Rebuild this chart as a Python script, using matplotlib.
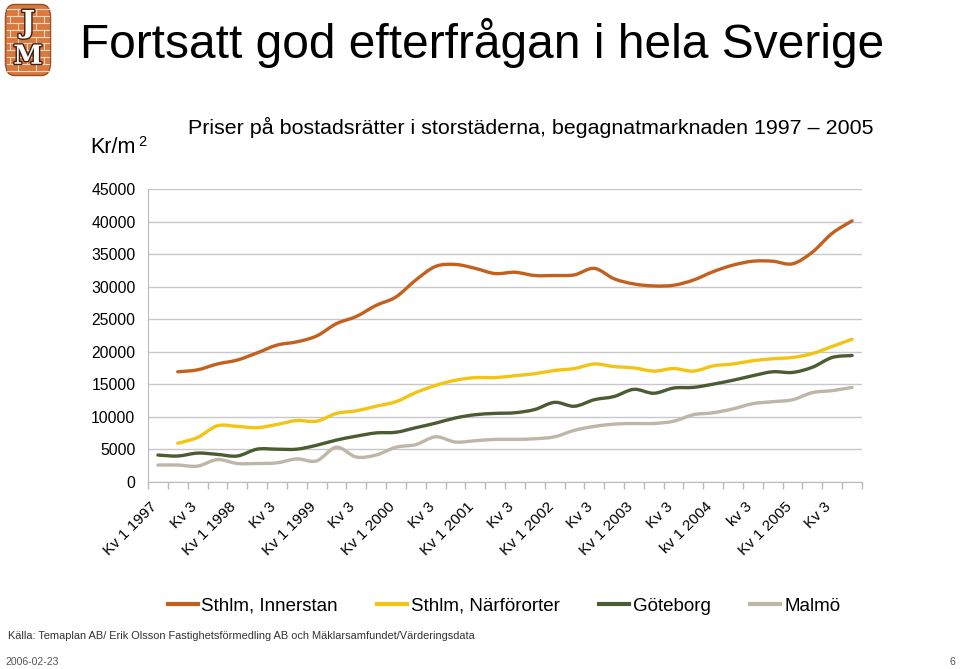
import numpy as np
import matplotlib
matplotlib.use('Agg')
import matplotlib.pyplot as plt
from matplotlib.path import Path
from matplotlib.patches import PathPatch, FancyBboxPatch
from matplotlib.lines import Line2D
import matplotlib.patheffects as pe
import matplotlib.transforms as mtransforms

plt.rcParams['font.family'] = ['Liberation Sans', 'DejaVu Sans']

# quarterly prices, Kr/m2, Kv 1 1997 .. Kv 4 2005
xlabels = ['Kv 1 1997', 'Kv 3', 'Kv 1 1998', 'Kv 3', 'Kv 1 1999', 'Kv 3',
           'Kv 1 2000', 'Kv 3', 'Kv 1 2001', 'Kv 3', 'Kv 1 2002', 'Kv 3',
           'Kv 1 2003', 'Kv 3', 'kv 1 2004', 'kv 3', 'Kv 1 2005', 'Kv 3']

innerstan = [np.nan, 16900, 17200, 18100, 18700, 19800, 21000, 21500, 22400,
             24300, 25400, 27100, 28400, 31000, 33100, 33400, 32800, 32000,
             32200, 31700, 31700, 31800, 32800, 31200, 30400, 30100, 30200,
             31000, 32300, 33300, 33900, 33900, 33500, 35300, 38200, 40100]
narfororter = [np.nan, 5900, 6800, 8600, 8500, 8300, 8800, 9400, 9300,
               10500, 10900, 11600, 12300, 13700, 14800, 15600, 16000, 16000,
               16300, 16600, 17100, 17400, 18100, 17700, 17500, 17000, 17400,
               17000, 17800, 18100, 18600, 18900, 19100, 19700, 20800, 21900]
goteborg = [4100, 3950, 4400, 4200, 3950, 5000, 5000, 5000, 5600,
            6400, 7000, 7500, 7600, 8300, 9000, 9800, 10300, 10500,
            10600, 11100, 12200, 11600, 12600, 13100, 14200, 13600, 14400,
            14500, 15000, 15600, 16300, 16900, 16800, 17600, 19100, 19400]
malmo = [2560, 2560, 2400, 3400, 2800, 2800, 2900, 3500, 3200,
         5300, 3800, 4100, 5300, 5700, 6900, 6100, 6300, 6500,
         6500, 6600, 6900, 7900, 8500, 8850, 8950, 8950, 9300,
         10300, 10600, 11200, 12000, 12300, 12600, 13700, 14000, 14500]

series = [('Sthlm, Innerstan', innerstan, '#c4601e'),
          ('Sthlm, Närförorter', narfororter, '#f2c414'),
          ('Göteborg', goteborg, '#4a5c32'),
          ('Malmö', malmo, '#bdb6a9')]


def smooth_path(x, y):
    # excel style smoothed line (catmull-rom as bezier)
    pts = np.column_stack([x, y])
    n = len(pts)
    verts = [pts[0]]
    codes = [Path.MOVETO]
    for i in range(n - 1):
        p0 = pts[i - 1] if i > 0 else pts[i]
        p1 = pts[i]
        p2 = pts[i + 1]
        p3 = pts[i + 2] if i + 2 < n else pts[i + 1]
        verts += [p1 + (p2 - p0) / 6, p2 - (p3 - p1) / 6, p2]
        codes += [Path.CURVE4] * 3
    return Path(verts, codes)


fig = plt.figure(figsize=(9.6, 6.69), dpi=100)
ax = fig.add_axes([148/960, 1-481.7/669, 714/960, 292.7/669])

for name, vals, col in series:
    v = np.array(vals, dtype=float)
    idx = np.arange(len(v))
    ok = ~np.isnan(v)
    ax.add_patch(PathPatch(smooth_path(idx[ok], v[ok]), fill=False, ec=col,
                           lw=2.4, capstyle='round', joinstyle='round', zorder=3))

ax.set_xlim(-0.5, 35.5)
ax.set_ylim(0, 45000)
ax.set_yticks(np.arange(0, 45001, 5000))
ax.set_yticklabels([str(v) for v in range(0, 45001, 5000)], fontsize=11.3)
ax.yaxis.grid(True, color='#c8c8c8', lw=1)
ax.set_axisbelow(True)
ax.tick_params(axis='y', length=0, pad=9)

ax.set_xticks(np.arange(0, 36, 2))
ax.set_xticklabels(xlabels, fontsize=11, rotation=45, ha='right', va='top',
                   rotation_mode='anchor')
ax.set_xticks(np.arange(-0.5, 36, 1), minor=True)
ax.tick_params(axis='x', which='major', length=0, pad=13)
ax.tick_params(axis='x', which='minor', length=5, color='#bbbbbb', width=1)
offset = mtransforms.ScaledTranslation(-8/100, 0, fig.dpi_scale_trans)
for lbl in ax.get_xticklabels():
    lbl.set_transform(lbl.get_transform() + offset)

for s in ['top', 'right']:
    ax.spines[s].set_visible(False)
for s in ['left', 'bottom']:
    ax.spines[s].set_color('#bbbbbb')

# titles
fig.text(80/960, 1-58/669, 'Fortsatt god efterfrågan i hela Sverige',
         fontsize=34.5, va='baseline', ha='left')
fig.text(188/960, 1-134/669,
         'Priser på bostadsrätter i storstäderna, begagnatmarknaden 1997 – 2005',
         fontsize=15.4, va='baseline', ha='left')
fig.text(90/960, 1-153/669, 'Kr/m', fontsize=15.5, va='baseline', ha='left')
fig.text(138/960, 1-146/669, '2', fontsize=10.5, va='baseline', ha='left')

# legend
handles = [Line2D([], [], color=c, lw=3) for _, _, c in series]
fig.legend(handles, [s[0] for s in series], loc='center', ncol=4,
           bbox_to_anchor=(504/960, 1-606/669), frameon=False, fontsize=13.5,
           handlelength=1.6, handletextpad=0.2, columnspacing=2.1)

fig.text(8/960, 1-639/669,
         'Källa: Temaplan AB/ Erik Olsson Fastighetsförmedling AB och Mäklarsamfundet/Värderingsdata',
         fontsize=7.9, color='#333333', va='baseline', ha='left')
fig.text(5/960, 1-665/669, '2006-02-23', fontsize=7.5, color='#555555',
         va='baseline', ha='left')
fig.text(955/960, 1-665/669, '6', fontsize=7.5, color='#555555',
         va='baseline', ha='right')

# JM logo
lax = fig.add_axes([4/960, 1-77/669, 48/960, 74/669])
lax.set_xlim(0, 1)
lax.set_ylim(0, 1)
lax.axis('off')
lax.add_patch(FancyBboxPatch((0.03, 0.02), 0.94, 0.96,
                             boxstyle='round,pad=0,rounding_size=0.18',
                             fc='#d9793f', ec='#9a5226', lw=1))
rows = np.linspace(0.08, 0.92, 10)
for k, yy in enumerate(rows):
    lax.plot([0.06, 0.94], [yy, yy], color='#f4d7c0', lw=0.8)
    if k < len(rows) - 1:
        start = 0.12 if k % 2 else 0.3
        for xx in np.arange(start, 0.94, 0.36):
            lax.plot([xx, xx], [yy, rows[k + 1]], color='#f4d7c0', lw=0.8)
outline = [pe.withStroke(linewidth=2, foreground='#3a2010')]
lax.text(0.5, 0.72, 'J', fontsize=22, fontweight='bold', family='DejaVu Serif',
         color='white', ha='center', va='center', path_effects=outline)
lax.text(0.5, 0.28, 'M', fontsize=19, fontweight='bold', family='DejaVu Serif',
         color='white', ha='center', va='center', path_effects=outline)

fig.savefig('out.png', dpi=100)
